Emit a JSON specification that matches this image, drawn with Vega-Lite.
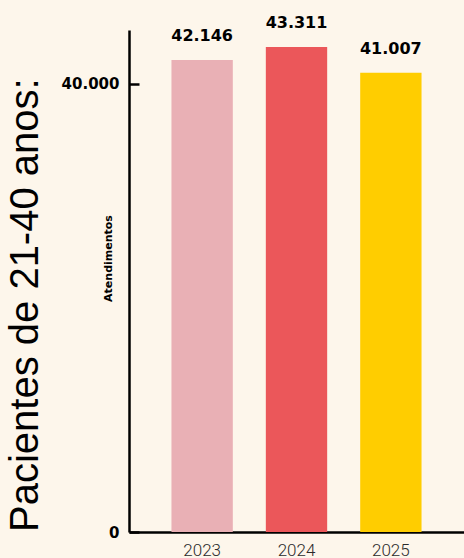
{
  "$schema": "https://vega.github.io/schema/vega-lite/v6.json",
  "autosize": "none",
  "padding": {"left": 129, "top": 30, "right": 0, "bottom": 26},
  "width": 335,
  "height": 502,
  "background": "#FDF6EB",
  "config": {
    "view": {"stroke": null},
    "locale": {"number": {"decimal": ",", "thousands": ".", "grouping": [3], "currency": ["R$", ""]}}
  },
  "title": {
    "text": "Pacientes de 21-40 anos:",
    "orient": "left",
    "anchor": "start",
    "frame": "group",
    "font": "Liberation Sans",
    "fontSize": 40,
    "fontWeight": "normal",
    "color": "#000000",
    "offset": 15
  },
  "data": {
    "values": [
      {"ano": "2023", "atendimentos": 42146},
      {"ano": "2024", "atendimentos": 43311},
      {"ano": "2025", "atendimentos": 41007}
    ]
  },
  "encoding": {
    "x": {
      "field": "ano",
      "type": "nominal",
      "sort": null,
      "scale": {"paddingInner": 0.35, "paddingOuter": 0.45},
      "axis": {
        "title": null,
        "labelAngle": 0,
        "ticks": false,
        "labelPadding": 10,
        "labelFont": "Roboto",
        "labelFontWeight": 300,
        "labelFontSize": 17,
        "labelColor": "#2a2a2a",
        "domainColor": "#000000",
        "domainWidth": 2.5,
        "grid": false
      }
    },
    "y": {
      "field": "atendimentos",
      "type": "quantitative",
      "scale": {"domain": [0, 44820], "nice": false},
      "axis": {
        "values": [0, 40000],
        "format": ",d",
        "grid": false,
        "tickSize": -10,
        "tickWidth": 2.5,
        "tickColor": "#000000",
        "labelPadding": 20,
        "labelFont": "DejaVu Sans",
        "labelFontWeight": "bold",
        "labelFontSize": 15,
        "labelColor": "#000000",
        "domainColor": "#000000",
        "domainWidth": 2.5,
        "title": "Atendimentos",
        "titleFont": "DejaVu Sans",
        "titleFontWeight": "bold",
        "titleFontSize": 11,
        "titleColor": "#000000",
        "titleX": -16,
        "titleY": 228
      }
    }
  },
  "layer": [
    {
      "mark": {"type": "bar"},
      "encoding": {
        "color": {
          "field": "ano",
          "type": "nominal",
          "scale": {"domain": ["2023", "2024", "2025"], "range": ["#E9B0B5", "#EB575A", "#FFCD00"]},
          "legend": null
        }
      }
    },
    {
      "mark": {"type": "text", "dy": -24, "baseline": "middle", "font": "DejaVu Sans", "fontWeight": "bold", "fontSize": 16, "color": "#000000"},
      "encoding": {
        "text": {"field": "atendimentos", "type": "quantitative", "format": ",d"}
      }
    }
  ]
}
